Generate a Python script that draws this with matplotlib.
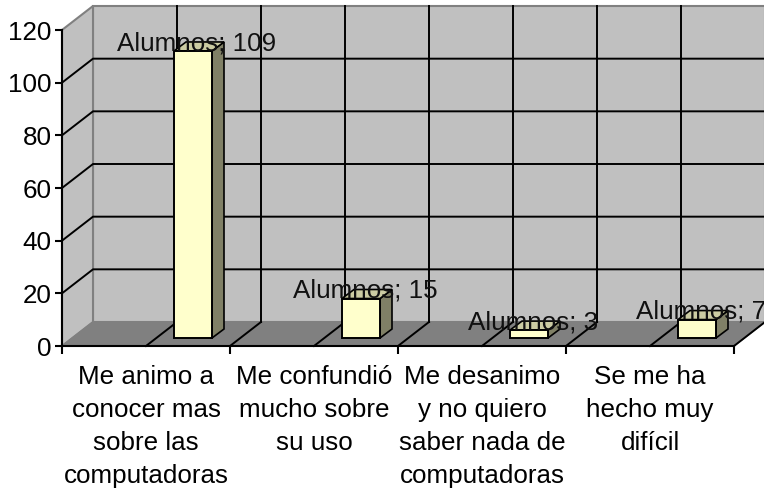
import matplotlib
matplotlib.use('Agg')
import matplotlib.pyplot as plt
from matplotlib.patches import Polygon

plt.rcParams['font.family'] = ['Liberation Sans', 'DejaVu Sans']

categories = ['Me animo a\nconocer mas\nsobre las\ncomputadoras',
              'Me confundió\nmucho sobre\nsu uso',
              'Me desanimo\ny no quiero\nsaber nada de\ncomputadoras',
              'Se me ha\nhecho muy\ndifícil']
values = [109, 15, 3, 7]
series = 'Alumnos'
y_ticks = [0, 20, 40, 60, 80, 100, 120]

W, H = 764, 494
fig = plt.figure(figsize=(W / 100, H / 100), dpi=100, facecolor='white')
ax = fig.add_axes([62 / W, (H - 346) / H, 672 / W, 316 / H])
ax.set_xlim(0, len(categories))
ax.set_ylim(0, 120)
ax.patch.set_visible(False)

# depth of the fake 3d box, in data units
dx = 31 / 168
dy = 24 / (316 / 120)
# bar depth and placement inside a category
bar_dx = 12 / 168
bar_dy = 9 / (316 / 120)
bar_off = 112 / 168
bar_w = 38 / 168
bar_base = 8 / (316 / 120)

n = len(categories)
poly = lambda pts, **kw: ax.add_patch(Polygon(pts, closed=True, clip_on=False, **kw))

# walls and floor
poly([(dx, dy), (n + dx, dy), (n + dx, 120 + dy), (dx, 120 + dy)], fc='#c0c0c0', ec='#808080', lw=1.5, zorder=1)
poly([(0, 0), (dx, dy), (dx, 120 + dy), (0, 120)], fc='#c0c0c0', ec='#808080', lw=1.5, zorder=1)
poly([(0, 0), (n, 0), (n + dx, dy), (dx, dy)], fc='#808080', ec='#808080', lw=1, zorder=1)

# grid
for v in y_ticks[1:-1]:
    ax.plot([0, dx, n + dx], [v, v + dy, v + dy], color='black', lw=1.4, clip_on=False, zorder=2)
for k in range(1, 2 * n):
    x = k / 2
    ax.plot([x, x + dx], [0, dy], color='black', lw=1.4, clip_on=False, zorder=2)
    ax.plot([x + dx, x + dx], [dy, 120 + dy], color='black', lw=1.4, clip_on=False, zorder=2)
ax.plot([n, n + dx], [0, dy], color='black', lw=1.4, clip_on=False, zorder=2)

# bars
for i, v in enumerate(values):
    x0 = i + bar_off
    x1 = x0 + bar_w
    y0 = bar_base
    y1 = bar_base + v
    poly([(x1, y0), (x1 + bar_dx, y0 + bar_dy), (x1 + bar_dx, y1 + bar_dy), (x1, y1)],
         fc='#808066', ec='black', lw=1.2, zorder=3)
    poly([(x0, y1), (x1, y1), (x1 + bar_dx, y1 + bar_dy), (x0 + bar_dx, y1 + bar_dy)],
         fc='#cccca3', ec='black', lw=1.2, zorder=3)
    poly([(x0, y0), (x1, y0), (x1, y1), (x0, y1)], fc='#ffffcc', ec='black', lw=1.4, zorder=4)
    ax.text((x0 + x1) / 2 + 0.024, y1 + 3, f'{series}; {v}', ha='center', va='center',
            fontsize=18.7, color='#111111', zorder=5, clip_on=False)

# axes
for s in ['top', 'right']:
    ax.spines[s].set_visible(False)
for s in ['left', 'bottom']:
    ax.spines[s].set_linewidth(1.5)
    ax.spines[s].set_zorder(6)
ax.set_yticks(y_ticks)
ax.set_xticks(range(n + 1))
ax.set_xticklabels([])
ax.set_xticks([i + 0.5 for i in range(n)], categories, minor=True, ha='center', va='top', linespacing=1.47)
ax.tick_params(axis='x', which='minor', length=0, pad=13.5, labelsize=18.7)
ax.tick_params(axis='x', which='major', length=6, width=1.5)
ax.tick_params(axis='y', length=5, width=1.5, pad=2.5, labelsize=18.7)

fig.savefig('out.png', dpi=100)
